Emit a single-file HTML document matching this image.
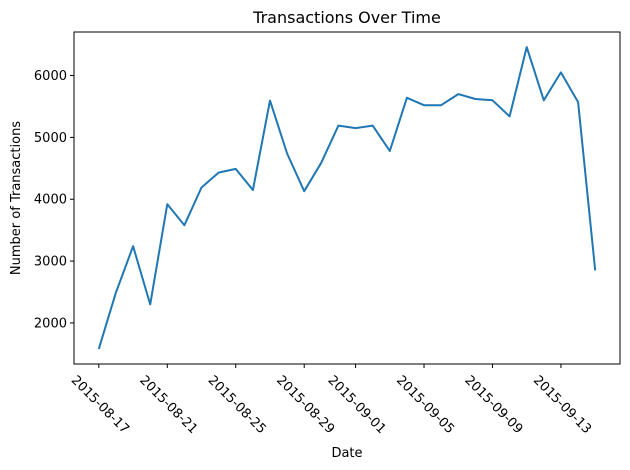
<!DOCTYPE html>
<html><head><meta charset="utf-8"><style>
html,body{margin:0;padding:0;background:#fff;}
svg{display:block;font-family:"DejaVu Sans","Liberation Sans",sans-serif;}
</style></head><body>
<svg id="chart" width="630" height="470">
<rect x="0" y="0" width="630" height="470" fill="#fff"/>
<text x="347" y="23" font-size="16" text-anchor="middle">Transactions Over Time</text>
<text x="347" y="457" font-size="13" text-anchor="middle">Date</text>
<text transform="translate(20,198) rotate(-90)" font-size="13" text-anchor="middle">Number of Transactions</text>
<g id="ax"></g>
</svg>
<script>
const startDate = "2015-08-17";
const values = [1580,2490,3240,2300,3920,3580,4190,4430,4490,4150,5595,4740,4130,4590,5190,5150,5190,4780,5640,5520,5520,5700,5620,5600,5340,6460,5600,6050,5570,2850];
const yTicks = [2000,3000,4000,5000,6000];
const xTickLabels = ["2015-08-17","2015-08-21","2015-08-25","2015-08-29","2015-09-01","2015-09-05","2015-09-09","2015-09-13"];

const L=74,R=620,T=32,B=364;
const ns="http://www.w3.org/2000/svg";
const g=document.getElementById('ax');
const n=values.length;
const xmin=-(n-1)*0.05, xmax=(n-1)*1.05;
const vmin=Math.min(...values), vmax=Math.max(...values), pad=(vmax-vmin)*0.05;
const ymin=vmin-pad, ymax=vmax+pad;
const xs=i=>L+(i-xmin)/(xmax-xmin)*(R-L);
const ys=v=>B-(v-ymin)/(ymax-ymin)*(B-T);
const day0=Date.parse(startDate+"T00:00:00Z");
const dayIdx=s=>(Date.parse(s+"T00:00:00Z")-day0)/86400000;
function mk(tag,attrs){const e=document.createElementNS(ns,tag);for(const k in attrs)e.setAttribute(k,attrs[k]);g.appendChild(e);return e;}

yTicks.forEach(v=>{
  const y=ys(v);
  const t=mk('line',{x1:L-4,x2:L,y1:y,y2:y,stroke:'#000','stroke-width':1});
  
  
  const tx=mk('text',{x:L-7,y:y+4.5,'font-size':13,'text-anchor':'end'});
  tx.textContent=v;
  
  
});
xTickLabels.forEach(s=>{
  const x=xs(dayIdx(s));
  const t=mk('line',{x1:x,x2:x,y1:B,y2:B+4,stroke:'#000','stroke-width':1});
  
  
  const tx=mk('text',{transform:`translate(${x+1},${B+41}) rotate(45)`,'font-size':13,'text-anchor':'middle','dominant-baseline':'central'});
  tx.textContent=s;
  
  
});
const d=values.map((v,i)=>(i?'L':'M')+xs(i).toFixed(1)+','+ys(v).toFixed(1)).join(' ');
const line=mk('path',{d:d,fill:'none',stroke:'#1f77b4','stroke-width':2,'stroke-linejoin':'round'});


const fr=mk('rect',{x:L,y:T,width:R-L,height:B-T,fill:'none',stroke:'#000','stroke-width':1});


</script>
</body></html>
